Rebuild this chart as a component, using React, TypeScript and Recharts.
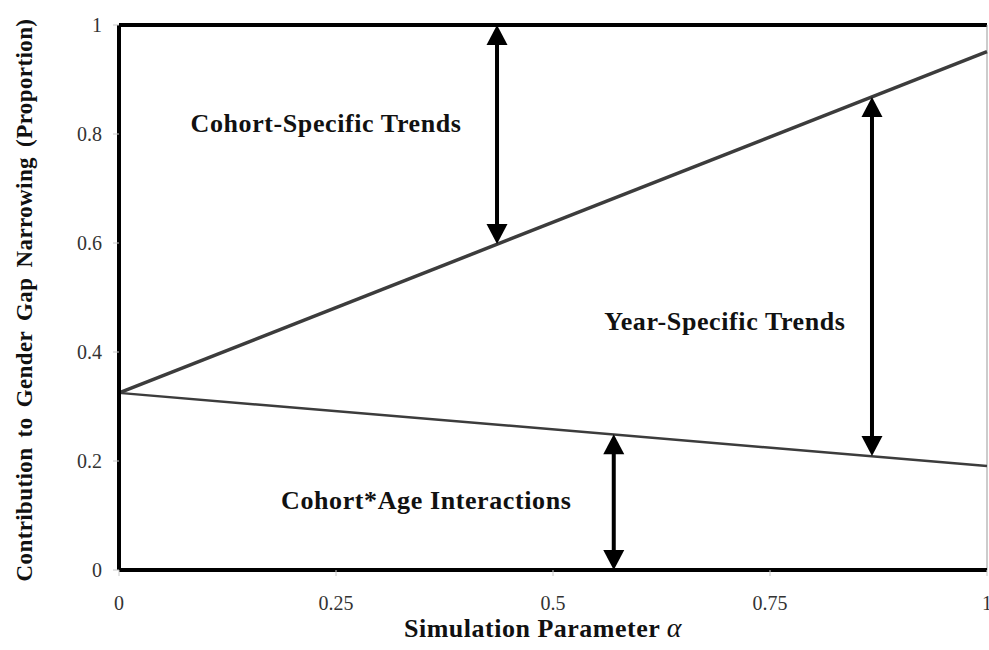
import React from "react";
import {
  LineChart,
  Line,
  XAxis,
  YAxis,
  ReferenceLine,
  ReferenceDot,
} from "recharts";

// simulation parameter alpha (0..1), line end values
const alphaPoints = [0, 1];
const yearTrendTop = [0.325, 0.951];
const cohortAgeTop = [0.325, 0.191];

const xTicks = [0, 0.25, 0.5, 0.75, 1];
const yTicks = [0, 0.2, 0.4, 0.6, 0.8, 1];

// double-headed arrows: x position, lower end, upper end
const arrowX = [0.4355, 0.8675, 0.57];
const arrowLow = [0.598, 0.209, 0];
const arrowHigh = [1, 0.868, 0.249];

// region labels
const regionNames = ["Cohort-Specific Trends", "Year-Specific Trends", "Cohort*Age Interactions"];
const regionX = [0.2385, 0.698, 0.354];
const regionY = [0.82, 0.457, 0.128];

const data = alphaPoints.map((a, i) => ({
  alpha: a,
  upper: yearTrendTop[i],
  lower: cohortAgeTop[i],
}));

const SERIF = '"Liberation Serif", "Times New Roman", serif';

function ArrowShape(props: any) {
  const { x1, y1, x2, y2 } = props;
  const top = Math.min(y1, y2);
  const bot = Math.max(y1, y2);
  const x = x1;
  const hw = 10.5;
  const hh = 20;
  return (
    <g>
      <line x1={x} x2={x} y1={top + hh - 2} y2={bot - hh + 2} stroke="#000" strokeWidth={4} />
      <polygon points={`${x},${top} ${x - hw},${top + hh} ${x + hw},${top + hh}`} fill="#000" />
      <polygon points={`${x},${bot} ${x - hw},${bot - hh} ${x + hw},${bot - hh}`} fill="#000" />
    </g>
  );
}

export default function App() {
  return (
    <div style={{ position: "absolute", left: 0, top: 0, background: "#fff" }}>
      <LineChart
        width={989}
        height={650}
        data={data}
        margin={{ top: 25, right: 2, bottom: 0, left: 0 }}
      >
        <XAxis
          dataKey="alpha"
          type="number"
          domain={[0, 1]}
          ticks={xTicks}
          interval={0}
          height={80}
          axisLine={{ stroke: "#000", strokeWidth: 4 }}
          tickLine={{ stroke: "#c8c8c8" }}
          tickSize={6}
          tickMargin={20}
          tick={{ fill: "#333", fontSize: 20, fontFamily: SERIF }}
          label={{
            content: () => (
              <text
                x={543}
                y={637}
                textAnchor="middle"
                fontFamily={SERIF}
                fontWeight="bold"
                fontSize={26}
                letterSpacing={0.5}
                fill="#111"
              >
                Simulation Parameter{" "}
                <tspan fontStyle="italic" fontWeight="normal" fontSize={28}>
                  α
                </tspan>
              </text>
            ),
          }}
        />
        <YAxis
          type="number"
          domain={[0, 1]}
          ticks={yTicks}
          interval={0}
          width={119}
          axisLine={{ stroke: "#000", strokeWidth: 4 }}
          tickLine={{ stroke: "#c8c8c8" }}
          tickSize={6}
          tickMargin={11}
          tick={{ fill: "#333", fontSize: 20, fontFamily: SERIF }}
          label={{
            content: () => (
              <text
                x={24}
                y={300}
                transform="rotate(-90 24 300)"
                textAnchor="middle"
                dominantBaseline="central"
                fontFamily={SERIF}
                fontWeight="bold"
                fontSize={23}
                letterSpacing={0.4}
                wordSpacing={4}
                fill="#111"
              >
                Contribution to Gender Gap Narrowing (Proportion)
              </text>
            ),
          }}
        />
        <ReferenceLine y={1} stroke="#000" strokeWidth={4} />
        <ReferenceLine x={1} stroke="#999" strokeWidth={1} />
        <Line
          type="linear"
          dataKey="upper"
          stroke="#3c3c3c"
          strokeWidth={3.5}
          dot={false}
          isAnimationActive={false}
        />
        <Line
          type="linear"
          dataKey="lower"
          stroke="#3c3c3c"
          strokeWidth={2.5}
          dot={false}
          isAnimationActive={false}
        />
        {arrowX.map((ax, i) => (
          <ReferenceLine
            key={"arrow" + i}
            segment={[
              { x: ax, y: arrowHigh[i] },
              { x: ax, y: arrowLow[i] },
            ]}
            ifOverflow="visible"
            stroke="#000"
            shape={(p: any) => <ArrowShape {...p} />}
          />
        ))}
        {regionNames.map((name, i) => (
          <ReferenceDot
            key={name}
            x={regionX[i]}
            y={regionY[i]}
            ifOverflow="visible"
            shape={(p: any) => (
              <text
                x={p.cx}
                y={p.cy}
                dy="0.35em"
                textAnchor="middle"
                fontFamily={SERIF}
                fontWeight="bold"
                fontSize={26}
                letterSpacing={0.6}
                fill="#111"
              >
                {name}
              </text>
            )}
          />
        ))}
      </LineChart>
    </div>
  );
}
